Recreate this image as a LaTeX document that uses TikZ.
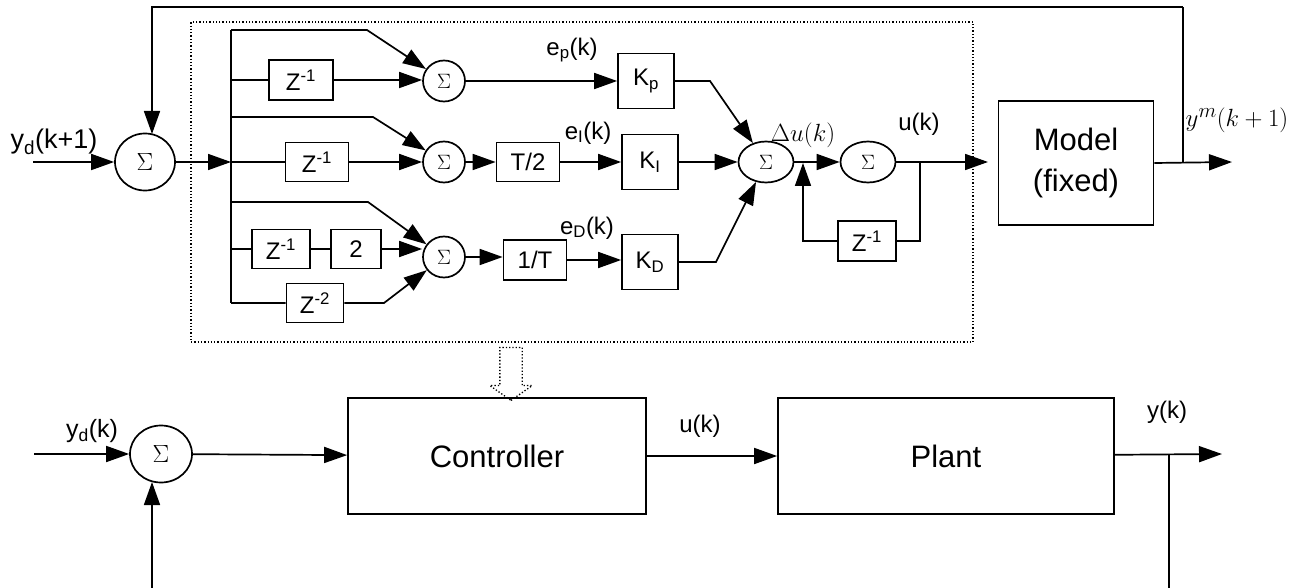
\documentclass[tikz,border=0pt]{standalone}
\usepackage{fontspec}
\setmainfont{Liberation Sans}
\usetikzlibrary{arrows.meta}
\usetikzlibrary{shapes.geometric}
\usetikzlibrary{shapes.arrows}

\begin{document}
\begin{tikzpicture}[x=1pt,y=-1pt,line width=1.7pt,
        >={Triangle[length=23pt,width=16pt]},
        blk/.style={rectangle,draw,inner sep=0pt,font=\fontsize{24}{28}\selectfont},
        sumbig/.style={ellipse,draw,minimum width=60pt,minimum height=57pt,inner sep=0pt,font=\fontsize{28}{30}\selectfont},
        sumsmall/.style={ellipse,draw,minimum width=42pt,minimum height=41pt,inner sep=0pt,font=\fontsize{21}{22}\selectfont},
        sumwide/.style={ellipse,draw,minimum width=55pt,minimum height=41pt,inner sep=0pt,font=\fontsize{21}{22}\selectfont},
        lbl/.style={inner sep=0pt,font=\fontsize{24}{28}\selectfont}]
        \useasboundingbox (0,0) rectangle (1314,588);

        % upper loop: PID controller and model
        \node[draw,dotted,line width=1.3pt,minimum width=782pt,minimum height=320pt] (PID) at (582,182) {};
        \node[sumbig] (S1) at (145,162) {$\Sigma$};
        \node[lbl,font=\fontsize{27}{30}\selectfont] (Lyd1) at (54,142) {y\textsubscript{d}(k+1)};
        \coordinate (Yin) at (33,162);
        \coordinate (S1top) at (152,134);

        \coordinate (B0) at (231,162);
        \coordinate (B1) at (231,30);
        \coordinate (B2) at (231,80);
        \coordinate (B3) at (231,117);
        \coordinate (B4) at (231,202);
        \coordinate (B5) at (231,249);
        \coordinate (B6) at (231,303);

        \node[blk,minimum width=64pt,minimum height=40pt] (Z1) at (301,80) {Z\textsuperscript{-1}};
        \node[blk,minimum width=63pt,minimum height=39pt] (Z2) at (317,162) {Z\textsuperscript{-1}};
        \node[blk,minimum width=58pt,minimum height=39pt] (Z3) at (281,249) {Z\textsuperscript{-1}};
        \node[blk,minimum width=50pt,minimum height=39pt] (Two) at (356,249) {2};
        \node[blk,minimum width=57pt,minimum height=39pt] (Z4) at (315,303) {Z\textsuperscript{-2}};

        \node[sumsmall] (Sp) at (444,81) {$\Sigma$};
        \node[sumsmall] (Si) at (444,162) {$\Sigma$};
        \node[sumsmall] (Sd) at (444,257) {$\Sigma$};

        \coordinate (C1) at (367,30);
        \coordinate (C2) at (373,117);
        \coordinate (C3) at (368,202);
        \coordinate (C4) at (384,303);

        \node[blk,minimum width=63pt,minimum height=39pt] (Th) at (528,162) {T/2};
        \node[blk,minimum width=63pt,minimum height=40pt] (Ti) at (535,260) {1/T};
        \node[blk,minimum width=56pt,minimum height=55pt] (Kp) at (646,81) {K\textsubscript{p}};
        \node[blk,minimum width=56pt,minimum height=55pt] (Ki) at (650,162) {K\textsubscript{I}};
        \node[blk,minimum width=56pt,minimum height=55pt] (Kd) at (650,262) {K\textsubscript{D}};
        \node[lbl] (Lep) at (572,50) {e\textsubscript{p}(k)};
        \node[lbl] (Lei) at (588,133) {e\textsubscript{I}(k)};
        \node[lbl] (Led) at (587,228) {e\textsubscript{D}(k)};

        \coordinate (C5) at (710,81);
        \coordinate (C6) at (716,262);
        \node[sumwide] (S3) at (766,162) {$\Sigma$};
        \node[sumwide] (S4) at (868,162) {$\Sigma$};
        \node[lbl] (Ldu) at (803,135) {$\Delta u(k)$};
        \node[lbl] (Lu1) at (919,124) {u(k)};
        \coordinate (J1) at (920,162);
        \coordinate (J2) at (920,241);
        \node[blk,minimum width=58pt,minimum height=40pt] (Z5) at (867,241) {Z\textsuperscript{-1}};
        \coordinate (J3) at (803,241);
        \coordinate (J4) at (803,163);
        \coordinate (Uend) at (988,162);

        \node[blk,minimum width=155pt,minimum height=124pt,align=center,font=\fontsize{31}{41}\selectfont] (Model) at (1076,163) {Model\\(fixed)};
        \coordinate (Ym) at (1232,162);
        \coordinate (T1) at (1183,162);
        \coordinate (T2) at (1183,7);
        \coordinate (T3) at (152,7);
        \node[lbl,font=\fontsize{30}{34}\selectfont] (Lym) at (1237,120) {$y^m(k+1)$};

        \draw[->] (Yin) -- (S1);
        \draw[->] (T2) -- (T3) -- (S1top);
        \draw[->] (S1) -- (B0);
        \draw (B1) -- (B6);

        \draw[->] (B1) -- (C1) -- (Sp);
        \draw[->] (B2) -- (Z1) -- (Z1 -| Sp.west);
        \draw[->] (B3) -- (C2) -- (Si);
        \draw[->] (B0) -- (Z2) -- (Si);
        \draw[->] (B4) -- (C3) -- (Sd);
        \draw[->] (B5) -- (Z3) -- (Two) -- (Two -| Sd.west);
        \draw[->] (B6) -- (Z4) -- (C4) -- (Sd);

        \draw[->] (Sp) -- (Kp);
        \draw[->] (Si) -- (Th);
        \draw[->] (Th) -- (Ki);
        \draw[->] (Sd.east) -- (Sd.east -| Ti.west);
        \draw[->] (Ti.east) -- (Ti.east -| Kd.west);

        \draw[->] (Kp.east) -- (C5) -- (S3);
        \draw[->] (Ki) -- (S3);
        \draw[->] (Kd.east) -- (C6) -- (S3);
        \draw[->] (S3) -- (S4);
        \draw[->] (S4) -- (Uend);
        \draw[->] (J1) -- (J2) -- (Z5) -- (J3) -- (J4);

        \draw[->] (Model.east) -- (Ym);
        \draw (T1) -- (T2);

        % lower loop: controller and plant
        \node[single arrow,draw,dotted,line width=1.3pt,shape border rotate=270,
            minimum height=53pt,minimum width=41pt,inner sep=10.5pt,
            single arrow head extend=10pt,single arrow tip angle=110] (Upd) at (511,370) {};

        \node[sumbig,minimum width=62pt] (S5) at (161,454) {$\Sigma$};
        \node[lbl,font=\fontsize{25}{28}\selectfont] (Lyd) at (92,431) {y\textsubscript{d}(k)};
        \coordinate (Yd) at (34,454);
        \node[blk,minimum width=298pt,minimum height=116pt,font=\fontsize{31}{36}\selectfont] (Ctrl) at (497,456) {Controller};
        \node[blk,minimum width=336pt,minimum height=116pt,font=\fontsize{31}{36}\selectfont] (Plant) at (946,456) {Plant};
        \node[lbl] (Lu2) at (700,426) {u(k)};
        \node[lbl] (Ly) at (1167,412) {y(k)};
        \coordinate (Yout) at (1222,454);
        \coordinate (F1) at (1169,454);
        \coordinate (F2) at (1169,588);
        \coordinate (F3) at (152,588);
        \coordinate (S5bot) at (152,482);

        \draw[->] (Yd) -- (S5);
        \draw[->] (S5) -- (Ctrl);
        \draw[->] (Ctrl) -- (Plant);
        \draw[->] (Plant) -- (Yout);
        \draw (F1) -- (F2);
        \draw[->] (F3) -- (S5bot);

    \end{tikzpicture}
\end{document}
